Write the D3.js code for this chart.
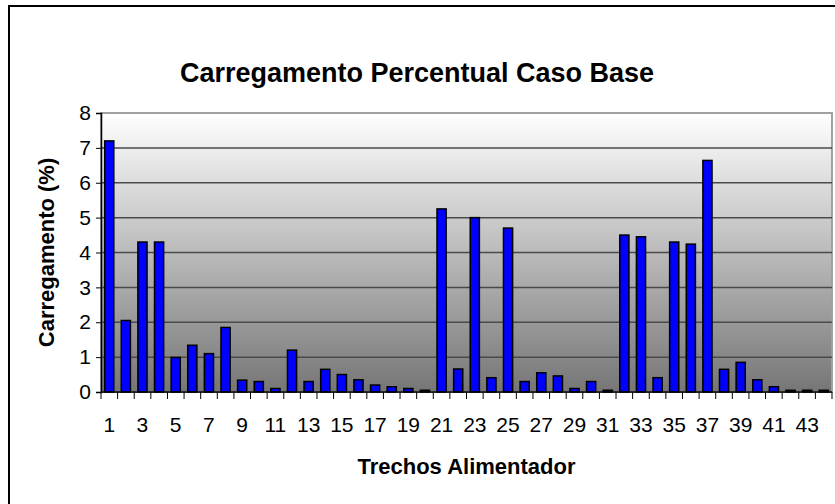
<!DOCTYPE html>
<html>
<head>
<meta charset="utf-8">
<script src="https://cdn.jsdelivr.net/npm/d3@7"></script>
<style>
  body { margin: 0; background: #fff; }
  svg { display: block; font-family: "Liberation Sans", Arial, sans-serif; }
</style>
</head>
<body>
<div class="chart"></div>
<script>
// Width and height of the page
var w = 835;
var h = 504;

// plot area inside the chart frame
var margin = ({top: 113, right: 3, bottom: 112, left: 101});

// Data
var trechos = d3.range(1, 45); // 44 feeder sections
var carregamento = [7.2, 2.05, 4.3, 4.3, 0.99, 1.34, 1.1, 1.85, 0.34, 0.3,
                    0.1, 1.2, 0.3, 0.65, 0.5, 0.35, 0.2, 0.15, 0.1, 0.05,
                    5.25, 0.66, 5.0, 0.41, 4.7, 0.3, 0.55, 0.46, 0.1, 0.3,
                    0.05, 4.5, 4.45, 0.41, 4.3, 4.24, 6.64, 0.65, 0.85, 0.35,
                    0.15, 0.05, 0.05, 0.05];
var yTicks = [0, 1, 2, 3, 4, 5, 6, 7, 8];
var xLabels = trechos.filter(function(d) { return d % 2 == 1; });

var data = trechos.map(function(t, i) { return {trecho: t, valor: carregamento[i]}; });

var svg = d3.select(".chart")
    .append("svg")
    .attr("width", w)
    .attr("height", h);

// outer chart frame (cut off on right and bottom)
svg.append("rect")
    .attr("x", 9).attr("y", 6)
    .attr("width", w + 10).attr("height", h + 10)
    .attr("fill", "#fff")
    .attr("stroke", "#000")
    .attr("stroke-width", 2);

// scales
var xScale = d3.scaleBand()
    .domain(trechos)
    .range([margin.left, w - margin.right])
    .paddingInner(0.45)
    .paddingOuter(0.22);

var xEdge = d3.scaleLinear()
    .domain([0, trechos.length])
    .range([margin.left, w - margin.right]);

var yScale = d3.scaleLinear()
    .domain([0, 8])
    .range([h - margin.bottom, margin.top]);

// gradient background of plot area
var defs = svg.append("defs");
var grad = defs.append("linearGradient")
    .attr("id", "plotGrad")
    .attr("x1", 0).attr("y1", 0).attr("x2", 0).attr("y2", 1);
grad.append("stop").attr("offset", "0%").attr("stop-color", "#ffffff");
grad.append("stop").attr("offset", "100%").attr("stop-color", "#767676");

svg.append("rect")
    .attr("x", margin.left)
    .attr("y", margin.top)
    .attr("width", w - margin.right - margin.left)
    .attr("height", h - margin.bottom - margin.top)
    .attr("fill", "url(#plotGrad)")
    .attr("stroke", "#a0a0a0")
    .attr("stroke-width", 2);

// gridlines
svg.append("g")
    .selectAll("line")
    .data(yTicks.filter(function(d) { return d > 0 && d < 8; }))
    .enter()
    .append("line")
    .attr("x1", margin.left)
    .attr("x2", w - margin.right)
    .attr("y1", function(d) { return yScale(d); })
    .attr("y2", function(d) { return yScale(d); })
    .attr("stroke", "#4a4a4a")
    .attr("stroke-width", 1.5);

// bars
svg.append("g")
    .selectAll("rect")
    .data(data)
    .enter()
    .append("rect")
    .attr("x", function(d) { return xScale(d.trecho); })
    .attr("y", function(d) { return yScale(d.valor); })
    .attr("width", xScale.bandwidth())
    .attr("height", function(d) { return yScale(0) - yScale(d.valor); })
    .attr("fill", "#0000ff")
    .attr("stroke", "#000")
    .attr("stroke-width", 1.5);

// y axis
var yAxis = d3.axisLeft(yScale).tickValues(yTicks).tickSize(5).tickPadding(5);
var gy = svg.append("g")
    .attr("transform", "translate(" + margin.left + ",0)")
    .call(yAxis);
gy.selectAll("text").style("font-size", "21px").attr("fill", "#000")
    .attr("font-family", "Liberation Sans, Arial, sans-serif");
gy.select(".domain").attr("stroke", "#000").attr("stroke-width", 1.5);

// x axis: ticks on category edges, labels on every other category
var gx = svg.append("g")
    .attr("transform", "translate(0," + (h - margin.bottom) + ")");
gx.append("line")
    .attr("x1", margin.left).attr("x2", w - margin.right)
    .attr("stroke", "#000").attr("stroke-width", 1.5);
gx.selectAll("line.tick")
    .data(d3.range(0, trechos.length + 1))
    .enter()
    .append("line")
    .attr("class", "tick")
    .attr("x1", function(d) { return xEdge(d); })
    .attr("x2", function(d) { return xEdge(d); })
    .attr("y1", 0).attr("y2", 7)
    .attr("stroke", "#000").attr("stroke-width", 1);
gx.selectAll("text")
    .data(xLabels)
    .enter()
    .append("text")
    .attr("x", function(d) { return xScale(d) + xScale.bandwidth() / 2; })
    .attr("y", 40)
    .attr("text-anchor", "middle")
    .style("font-size", "21px")
    .text(function(d) { return d; });

// titles
svg.append("text")
    .attr("x", 417).attr("y", 82)
    .attr("text-anchor", "middle")
    .style("font-size", "27px").style("font-weight", "bold")
    .text("Carregamento Percentual Caso Base");

svg.append("text")
    .attr("x", (margin.left + w - margin.right) / 2).attr("y", 474)
    .attr("text-anchor", "middle")
    .style("font-size", "22px").style("font-weight", "bold")
    .text("Trechos Alimentador");

svg.append("text")
    .attr("transform", "translate(54," + ((margin.top + h - margin.bottom) / 2) + ") rotate(-90)")
    .attr("text-anchor", "middle")
    .style("font-size", "22px").style("font-weight", "bold")
    .text("Carregamento (%)");
</script>
</body>
</html>
